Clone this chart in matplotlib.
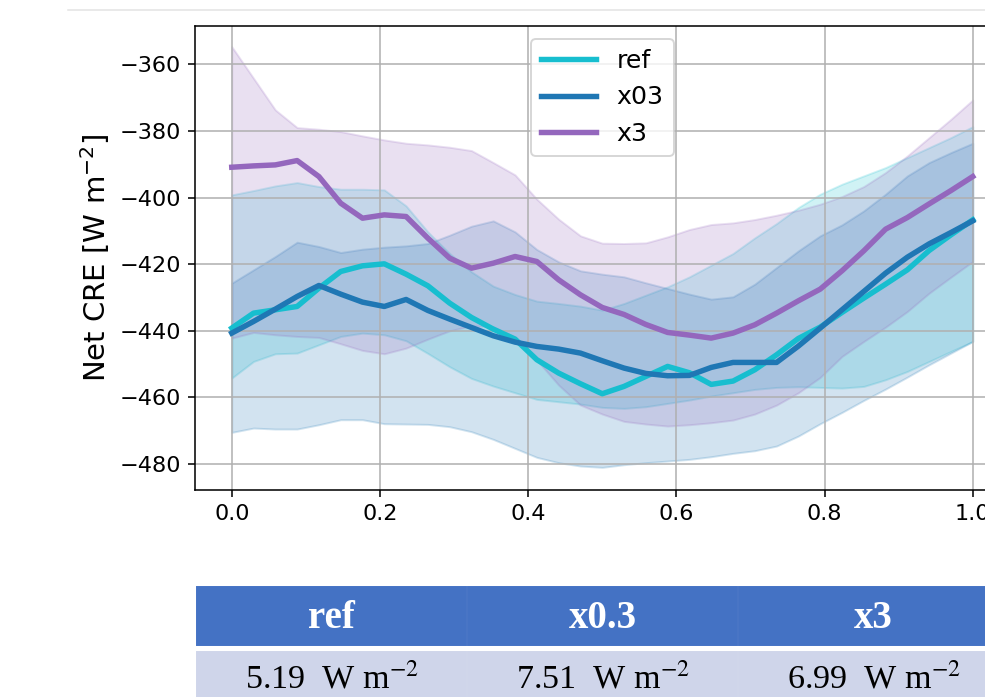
import matplotlib.pyplot as plt
import numpy as np
from matplotlib.patches import Rectangle

# data (35 points from 0 to 1)
x = np.linspace(0, 1, 35)

ref_mean = [-439.2, -434.7, -433.7, -432.7, -427.2, -422.2, -420.5, -419.9, -423.0,
            -426.5, -431.7, -436.0, -439.5, -442.5, -448.7, -452.7, -455.9, -458.9,
            -456.7, -453.7, -450.7, -452.6, -456.1, -455.1, -451.7, -447.2, -442.3,
            -438.9, -434.5, -430.2, -426.0, -421.7, -415.9, -411.2, -406.7]
ref_hi = [-399.2, -397.9, -396.5, -395.5, -396.7, -397.5, -397.5, -397.7, -402.5,
          -410.3, -416.8, -422.3, -426.6, -429.1, -431.1, -431.8, -432.6, -433.8,
          -431.8, -429.3, -426.8, -423.8, -420.3, -416.8, -412.1, -407.8, -403.0,
          -399.0, -396.0, -393.5, -391.0, -388.0, -385.0, -382.0, -378.7]
ref_lo = [-454.2, -449.2, -446.9, -446.7, -444.2, -441.7, -440.7, -441.2, -443.0,
          -446.8, -450.8, -454.3, -456.6, -458.6, -460.6, -461.3, -462.0, -463.0,
          -463.3, -462.8, -461.8, -460.8, -459.6, -458.6, -457.6, -457.0, -456.8,
          -457.0, -457.2, -456.7, -454.7, -452.2, -449.2, -446.2, -443.2]

x03_mean = [-440.7, -437.2, -433.5, -429.7, -426.4, -429.0, -431.4, -432.7, -430.6,
            -433.9, -436.5, -439.0, -441.5, -443.4, -444.7, -445.5, -446.7, -449.0,
            -451.2, -452.8, -453.5, -453.4, -451.0, -449.5, -449.5, -449.5, -444.6,
            -439.2, -433.7, -428.2, -422.7, -417.9, -413.9, -410.5, -407.0]
x03_hi = [-425.7, -421.7, -417.7, -413.4, -414.7, -416.5, -415.5, -414.9, -414.5,
          -413.8, -411.3, -408.6, -407.0, -410.3, -415.6, -419.3, -422.0, -423.0,
          -423.8, -425.6, -427.3, -429.0, -430.5, -429.8, -426.0, -421.0, -416.0,
          -411.5, -408.2, -404.0, -399.0, -393.5, -389.5, -386.5, -383.7]
x03_lo = [-470.5, -469.2, -469.5, -469.5, -468.2, -466.7, -466.7, -467.9, -468.0,
          -468.1, -468.8, -470.3, -472.6, -475.3, -478.0, -479.6, -480.6, -481.0,
          -480.2, -479.6, -479.1, -478.6, -477.8, -476.8, -476.0, -474.6, -471.6,
          -467.9, -464.5, -460.9, -457.5, -453.9, -450.2, -446.7, -443.2]

x3_mean = [-390.9, -390.5, -390.2, -388.9, -393.7, -401.7, -406.2, -405.2, -405.7,
           -412.2, -418.2, -421.2, -419.7, -417.7, -419.2, -424.7, -429.2, -433.0,
           -435.1, -438.1, -440.5, -441.3, -442.2, -440.7, -438.2, -434.7, -431.0,
           -427.5, -422.0, -416.0, -409.5, -406.0, -401.9, -397.9, -393.7]
x3_hi = [-354.7, -364.2, -373.7, -379.0, -379.5, -380.2, -381.5, -382.7, -383.7,
         -384.2, -384.9, -385.9, -389.5, -393.2, -400.5, -406.5, -411.5, -413.7,
         -413.8, -413.6, -411.8, -409.6, -408.1, -407.6, -406.6, -405.3, -403.8,
         -402.0, -399.7, -396.7, -392.5, -387.5, -382.0, -376.5, -370.7]
x3_lo = [-442.2, -440.5, -441.2, -441.7, -442.0, -443.9, -445.9, -446.9, -445.2,
         -442.5, -440.0, -438.5, -438.8, -441.8, -448.8, -456.3, -462.3, -465.0,
         -467.2, -468.0, -468.6, -468.2, -467.6, -466.8, -465.0, -462.3, -458.6,
         -454.0, -447.7, -443.2, -438.9, -434.2, -428.7, -423.9, -419.2]

labels = ['ref', 'x03', 'x3']
colors = ['tab:cyan', 'tab:blue', 'tab:purple']

table_heads = ['ref', 'x0.3', 'x3']
table_vals = [5.19, 7.51, 6.99]

fig = plt.figure(figsize=(985 / 140, 697 / 140), dpi=140)

# background axes in pixel units, for the slide line and the table
bg = fig.add_axes([0, 0, 1, 1])
bg.set_xlim(0, 985)
bg.set_ylim(697, 0)
bg.axis('off')
bg.plot([68, 985], [10, 10], color='#e4e4e4', lw=0.8)

ax = fig.add_axes([194.7 / 985, 207 / 697, 815.1 / 985, 464 / 697])
series = [(ref_mean, ref_lo, ref_hi), (x03_mean, x03_lo, x03_hi), (x3_mean, x3_lo, x3_hi)]
for (m, lo, hi), lab, c in zip(series, labels, colors):
    ax.fill_between(x, lo, hi, color=c, alpha=0.2)
for (m, lo, hi), lab, c in zip(series, labels, colors):
    ax.plot(x, m, color=c, lw=2.8, label=lab)

ax.grid(True)
ax.set_xlim(-0.05, 1.05)
ax.set_ylim(-487.8, -348.5)
ax.set_xticks(np.arange(0, 1.01, 0.2))
ax.set_yticks(np.arange(-480, -359, 20))
ax.tick_params(labelsize=11.5)
ax.set_ylabel('Net CRE [W m$^{-2}$]', fontsize=15, labelpad=4)
ax.legend(loc='upper center', fontsize=13, handlelength=2.2)

# table under the chart
for j, (head, val) in enumerate(zip(table_heads, table_vals)):
    x0 = 197 + j * 271
    bg.add_patch(Rectangle((x0, 587), 269, 58, color='#4472C4'))
    bg.add_patch(Rectangle((x0, 652), 269, 60, color='#CFD5EA'))
    bg.text(x0 + 134.5, 618, head, ha='center', va='center', color='white',
            fontsize=20, fontweight='bold', family='Liberation Serif')
    bg.text(x0 + 134.5, 679, f'{val:.2f}  W m$^{{-2}}$', ha='center', va='center',
            color='black', fontsize=17.5, family='Liberation Serif', math_fontfamily='stix')

fig.savefig('out.png', dpi=140)
